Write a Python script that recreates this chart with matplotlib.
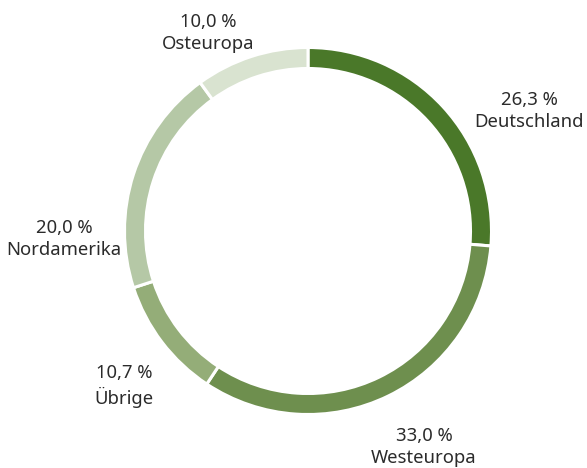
#!/usr/bin/env python

import matplotlib
matplotlib.use('Agg')
import matplotlib.pyplot as plt

plt.rcParams['font.family'] = ['Noto Sans', 'DejaVu Sans']

regions = ['Deutschland', 'Westeuropa', 'Übrige', 'Nordamerika', 'Osteuropa']
shares = [26.3, 33.0, 10.7, 20.0, 10.0]
colors = ['#4a7829', '#6e8f4e', '#94ad78', '#b5c8a6', '#d9e3d0']

# label block centres in pixels (x from left, y from top)
label_pos = [(529, 111), (424, 447), (124, 386), (64, 239), (208, 33)]

W, H = 587, 468
fig = plt.figure(figsize=(W / 100, H / 100), dpi=100)
ax = fig.add_axes([0, 0, 1, 1])

ax.pie(shares, colors=colors, startangle=90, counterclock=False,
       radius=183.5, center=(308, H - 231), frame=True,
       wedgeprops={'width': 21, 'edgecolor': 'white', 'linewidth': 2.2})
ax.set_xlim(0, W)
ax.set_ylim(0, H)
ax.axis('off')

for name, val, (x, y) in zip(regions, shares, label_pos):
    txt = ('%.1f %%' % val).replace('.', ',') + '\n' + name
    ax.text(x, H - y, txt, ha='center', va='center', fontsize=13.3,
            color='#2b2b2b', linespacing=1.25)

plt.savefig('out.png', dpi=100)
